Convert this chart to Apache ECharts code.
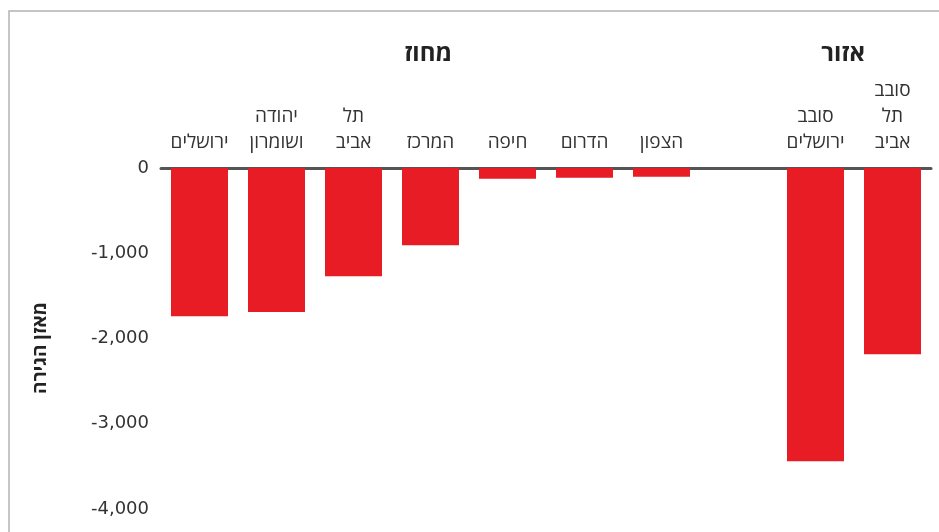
<!DOCTYPE html>
<html>
<head>
<meta charset="utf-8">
<script src="https://cdn.jsdelivr.net/npm/echarts@6/dist/echarts.min.js"></script>
<style>
html,body{margin:0;padding:0;background:#fff;}
#chart{width:939px;height:532px;}
</style>
</head>
<body>
<div id="chart"></div>
<script>
var categories = ['ירושלים', 'יהודה\nושומרון', 'תל\nאביב', 'המרכז', 'חיפה', 'הדרום', 'הצפון', '', 'סובב\nירושלים', 'סובב\nתל\nאביב'];
var values = [-1740, -1690, -1270, -905, -127, -115, -103, null, -3440, -2185];
var yTicks = { min: -4000, max: 0, interval: 1000 };
var groupTitles = ['מחוז', 'אזור'];
var yAxisTitle = 'מאזן הגירה';

var chart = echarts.init(document.getElementById('chart'), null, { renderer: 'canvas' });
var hebFont = '"Open Sans", "DejaVu Sans", sans-serif';
chart.setOption({
  animation: false,
  backgroundColor: '#fff',
  grid: { left: 161, right: 8, top: 168, bottom: 23 },
  xAxis: {
    type: 'category',
    position: 'top',
    data: categories,
    axisLine: { show: true, lineStyle: { color: '#555', width: 3 } },
    axisTick: { show: false },
    axisLabel: {
      interval: 0,
      margin: 12,
      color: '#333',
      fontSize: 19,
      lineHeight: 26,
      fontFamily: hebFont
    },
    splitLine: { show: false }
  },
  yAxis: {
    type: 'value',
    min: yTicks.min,
    max: yTicks.max,
    interval: yTicks.interval,
    axisLine: { show: false },
    axisTick: { show: false },
    splitLine: { show: false },
    axisLabel: {
      margin: 12,
      color: '#333',
      fontSize: 18,
      fontFamily: '"DejaVu Sans", sans-serif',
      formatter: function (v) {
        var s = Math.abs(v).toLocaleString('en-US');
        return (v < 0 ? '-' : '') + s;
      }
    }
  },
  series: [{
    type: 'bar',
    data: values,
    barWidth: '74%',
    itemStyle: { color: '#e71c24' }
  }],
  graphic: [
    {
      type: 'rect', silent: true,
      shape: { x: 9, y: 11, width: 1000, height: 600 },
      style: { fill: 'none', stroke: '#b3b3b3', lineWidth: 1.5 }
    },
    {
      type: 'text', x: 452, y: 54,
      style: { text: groupTitles[0], fill: '#222', align: 'right', verticalAlign: 'middle', font: 'bold 24px ' + hebFont }
    },
    {
      type: 'text', x: 865, y: 54,
      style: { text: groupTitles[1], fill: '#222', align: 'right', verticalAlign: 'middle', font: 'bold 24px ' + hebFont }
    },
    {
      type: 'text', x: 41, y: 348, rotation: Math.PI / 2,
      style: { text: yAxisTitle, fill: '#222', align: 'center', verticalAlign: 'middle', font: 'bold 19px ' + hebFont }
    }
  ]
});
</script>
</body>
</html>
